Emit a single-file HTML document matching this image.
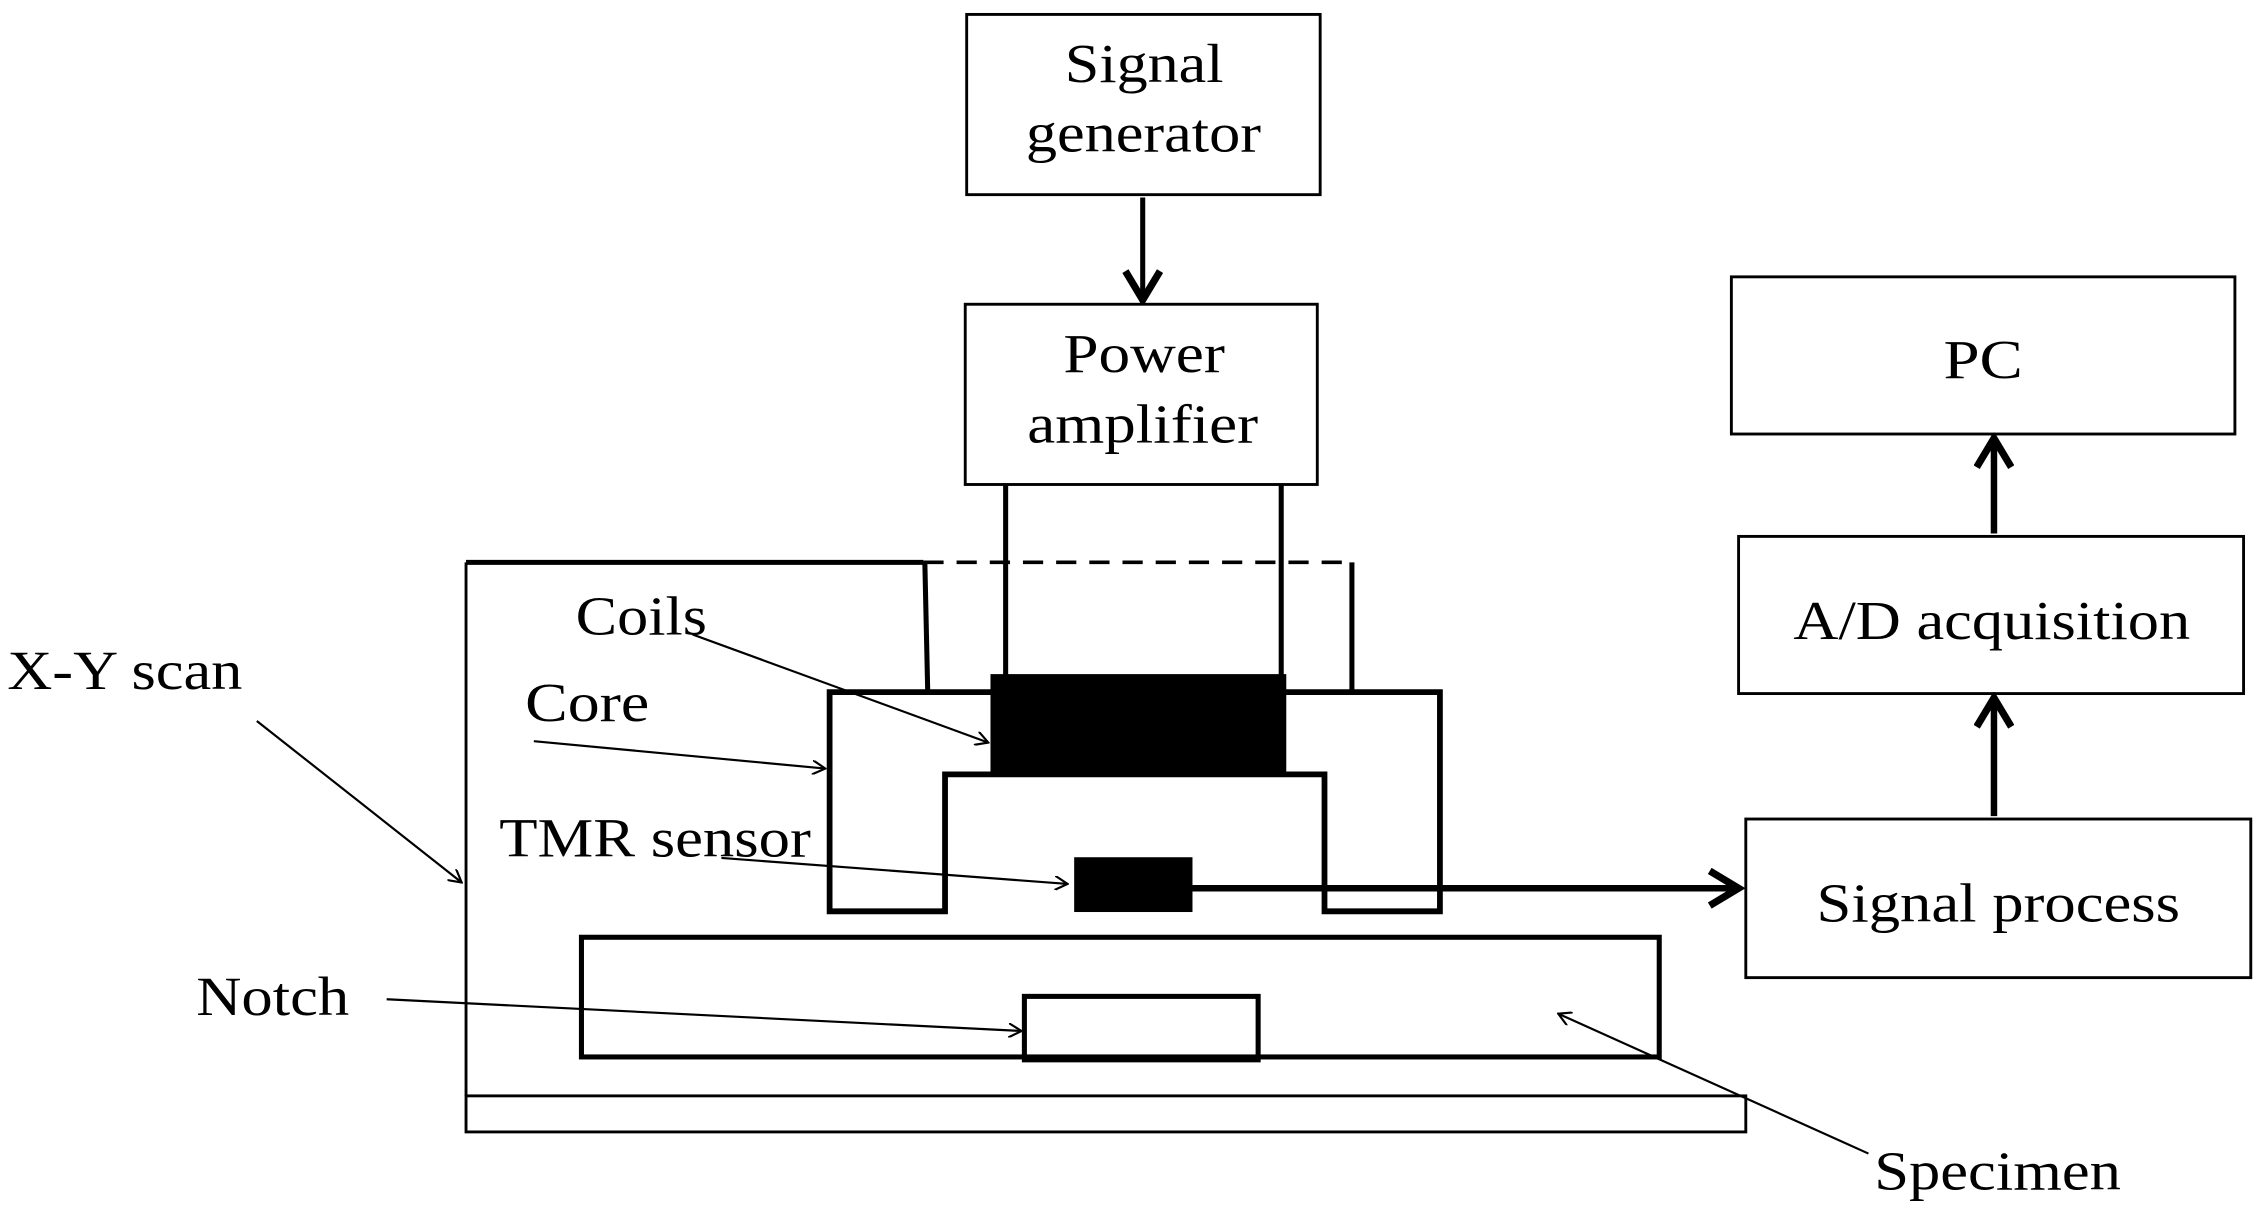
<!DOCTYPE html>
<html><head><meta charset="utf-8"><style>html,body{margin:0;padding:0;background:#fff}svg{display:block}</style></head>
<body>
<svg width="2258" height="1217" viewBox="0 0 1565 844" preserveAspectRatio="none" xmlns="http://www.w3.org/2000/svg" font-family="'Liberation Serif',serif" font-size="38" fill="none" stroke="#000">
<defs>
<marker id="a" markerWidth="10" markerHeight="10" refX="9" refY="5" orient="auto" markerUnits="userSpaceOnUse"><path d="M0,0 L9,5 L0,10" stroke="#000" stroke-width="1.5" fill="none"/></marker>
<marker id="b" markerWidth="28" markerHeight="28" refX="24" refY="14" orient="auto" markerUnits="userSpaceOnUse"><path d="M4,2 L24,14 L4,26" stroke="#000" stroke-width="5" fill="none"/></marker>
</defs>
<g stroke-width="2">
<rect x="670" y="10" width="245" height="125"/>
<rect x="669" y="211" width="244" height="125"/>
<rect x="1200" y="192" width="349" height="109"/>
<rect x="1205" y="372" width="350" height="109"/>
<rect x="1210" y="568" width="350" height="110"/>
<rect x="323" y="760" width="887" height="25"/>
<line x1="323" y1="390" x2="323" y2="760"/>
</g>
<g stroke-width="3.5">
<line x1="323" y1="390" x2="640" y2="390"/>
<line x1="640" y1="390" x2="935" y2="390" stroke-dasharray="14,9" stroke-width="2.5"/>
<line x1="641" y1="390" x2="643" y2="480"/>
<line x1="937" y1="390" x2="937" y2="480"/>
<line x1="697" y1="336" x2="697" y2="470"/>
<line x1="888" y1="336" x2="888" y2="470"/>
<path d="M575,632 V480 H998 V632 H918 V537 H655 V632 Z" stroke-width="4"/>
<rect x="403" y="650" width="747" height="83"/>
<rect x="710" y="691" width="162" height="44"/>
<line x1="792" y1="137" x2="792" y2="208" marker-end="url(#b)"/>
<line x1="826" y1="616" x2="1205" y2="616" marker-end="url(#b)" stroke-width="4.5"/>
<line x1="1382" y1="566" x2="1382" y2="484" marker-end="url(#b)" stroke-width="4.5"/>
<line x1="1382" y1="370" x2="1382" y2="304" marker-end="url(#b)" stroke-width="4.5"/>
</g>
<rect x="687" y="468" width="204" height="70" fill="#000"/>
<rect x="745" y="595" width="81" height="37" fill="#000"/>
<g stroke-width="1.5">
<line x1="178" y1="500" x2="320" y2="612" marker-end="url(#a)"/>
<line x1="480" y1="440" x2="685" y2="515" marker-end="url(#a)"/>
<line x1="370" y1="514" x2="572" y2="533" marker-end="url(#a)"/>
<line x1="500" y1="595" x2="740" y2="613" marker-end="url(#a)"/>
<line x1="268" y1="693" x2="708" y2="715" marker-end="url(#a)"/>
<line x1="1295" y1="800" x2="1080" y2="703" marker-end="url(#a)"/>
</g>
<g fill="#000" stroke="none">
<text x="738" y="57" textLength="110" lengthAdjust="spacingAndGlyphs">Signal</text>
<text x="711" y="105" textLength="163" lengthAdjust="spacingAndGlyphs">generator</text>
<text x="737" y="258" textLength="112" lengthAdjust="spacingAndGlyphs">Power</text>
<text x="712" y="307" textLength="160" lengthAdjust="spacingAndGlyphs">amplifier</text>
<text x="1347" y="262" textLength="55" lengthAdjust="spacingAndGlyphs">PC</text>
<text x="1243" y="443" textLength="275" lengthAdjust="spacingAndGlyphs">A/D acquisition</text>
<text x="1259" y="639" textLength="252" lengthAdjust="spacingAndGlyphs">Signal process</text>
<text x="5" y="478" textLength="163" lengthAdjust="spacingAndGlyphs">X-Y scan</text>
<text x="399" y="440" textLength="91" lengthAdjust="spacingAndGlyphs">Coils</text>
<text x="364" y="500" textLength="86" lengthAdjust="spacingAndGlyphs">Core</text>
<text x="346" y="594" textLength="216" lengthAdjust="spacingAndGlyphs">TMR sensor</text>
<text x="136" y="704" textLength="106" lengthAdjust="spacingAndGlyphs">Notch</text>
<text x="1299" y="825" textLength="171" lengthAdjust="spacingAndGlyphs">Specimen</text>
</g>
</svg>
</body></html>
